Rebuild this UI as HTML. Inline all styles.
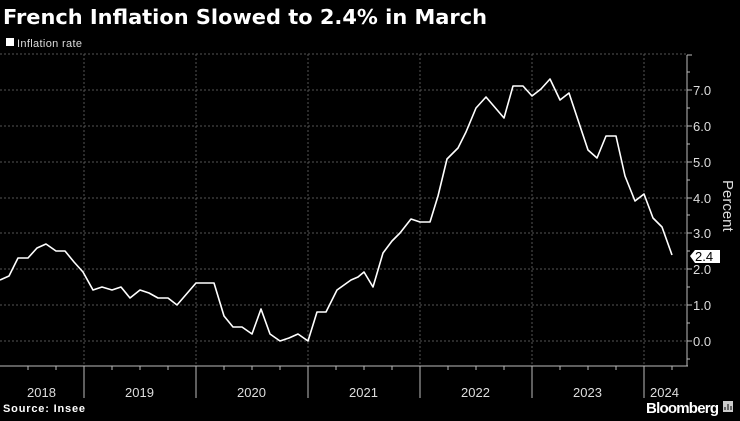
<!DOCTYPE html>
<html><head><style>
body{margin:0;background:#000;width:740px;height:416px;overflow:hidden;font-family:"Liberation Sans",sans-serif;color:#fff}
</style></head><body>
<svg width="740" height="416" xmlns="http://www.w3.org/2000/svg" font-family="Liberation Sans, sans-serif">
<text x="3" y="24" font-size="20" font-weight="bold" fill="#fff" font-family="DejaVu Sans, sans-serif" textLength="484" lengthAdjust="spacingAndGlyphs">French Inflation Slowed to 2.4% in March</text>
<rect x="6" y="38" width="8" height="8" fill="#fff"/>
<text x="17" y="47" font-size="11" fill="#ddd" textLength="65">Inflation rate</text>
<g stroke="#555" stroke-width="1" stroke-dasharray="2,2">
<line x1="0" y1="54" x2="687" y2="54"/>
<line x1="0" y1="90" x2="687" y2="90"/><line x1="0" y1="126" x2="687" y2="126"/>
<line x1="0" y1="162" x2="687" y2="162"/><line x1="0" y1="198" x2="687" y2="198"/>
<line x1="0" y1="233" x2="687" y2="233"/><line x1="0" y1="269" x2="687" y2="269"/>
<line x1="0" y1="305" x2="687" y2="305"/><line x1="0" y1="341" x2="687" y2="341"/>
<line x1="84" y1="54" x2="84" y2="366"/><line x1="196" y1="54" x2="196" y2="366"/>
<line x1="308" y1="54" x2="308" y2="366"/><line x1="420" y1="54" x2="420" y2="366"/>
<line x1="532" y1="54" x2="532" y2="366"/><line x1="644" y1="54" x2="644" y2="366"/>
</g>
<g stroke="#bbb" stroke-width="1">
<line x1="0" y1="366" x2="688" y2="366"/>
<line x1="687" y1="55" x2="687" y2="366"/>
<line x1="84" y1="366" x2="84" y2="398"/><line x1="196" y1="366" x2="196" y2="398"/>
<line x1="308" y1="366" x2="308" y2="398"/><line x1="420" y1="366" x2="420" y2="398"/>
<line x1="532" y1="366" x2="532" y2="398"/><line x1="644" y1="366" x2="644" y2="398"/>
<line x1="687" y1="55" x2="692" y2="55"/>
<path d="M687 90h5M687 126h5M687 162h5M687 198h5M687 233h5M687 269h5M687 305h5M687 341h5M687 108h3M687 144h3M687 180h3M687 215h3M687 251h3M687 287h3M687 323h3M687 359h3M687 72h3"/>
<path d="M28 366v4M56 366v4M112 366v4M140 366v4M168 366v4M224 366v4M252 366v4M280 366v4M336 366v4M364 366v4M392 366v4M448 366v4M476 366v4M504 366v4M560 366v4M588 366v4M616 366v4M672 366v4"/>
</g>
<polyline fill="none" stroke="#fff" stroke-width="1.6" stroke-linejoin="round" points="0,280 9,276 18,258 28,258 37,248 46,244 56,251 65,251 74,262 83,272 93,290 102,287 112,290 121,287 130,298 140,290 149,293 158,298 168,298 177,305 196,283 205,283 214,283 224,316 233,327 242,327 252,334 261,309 270,334 280,341 289,338 298,334 308,341 317,312 326,312 337,290 351,280 358,277 364,272 373,287 383,253 392,241 400,233 411,219 420,222 430,222 438,196 447,159 458,148 466,132 476,108 486,97 504,118 513,86 523,86 532,96 541,89 550,79 560,100 569,93 588,150 597,158 606,136 616,136 625,176 635,201 644,194 653,218 662,227 672,255"/>
<g font-size="13" fill="#ddd">
<text x="693" y="95">7.0</text><text x="693" y="131">6.0</text><text x="693" y="167">5.0</text>
<text x="693" y="203">4.0</text><text x="693" y="238">3.0</text><text x="693" y="274">2.0</text>
<text x="693" y="310">1.0</text><text x="693" y="346">0.0</text>
<text x="27" y="397">2018</text><text x="125" y="397">2019</text><text x="237" y="397">2020</text>
<text x="349" y="397">2021</text><text x="461" y="397">2022</text><text x="573" y="397">2023</text>
<text x="650" y="397">2024</text>
</g>
<text transform="translate(723,180) rotate(90)" font-size="15" fill="#ddd">Percent</text>
<path d="M690 256 L695 250 H720 V263 H695 Z" fill="#fff"/>
<text x="695" y="261" font-size="13" fill="#000">2.4</text>
<text x="3" y="412" font-size="11" font-weight="bold" fill="#fff" textLength="82">Source: Insee</text>
<text x="646" y="413" font-size="15" font-weight="bold" fill="#fff" textLength="73">Bloomberg</text>
<rect x="723" y="401" width="10" height="11" fill="#ccc"/>
<path d="M725 410v-3M728 410v-6M731 410v-4" stroke="#000" stroke-width="1"/>
</svg>
</body></html>
